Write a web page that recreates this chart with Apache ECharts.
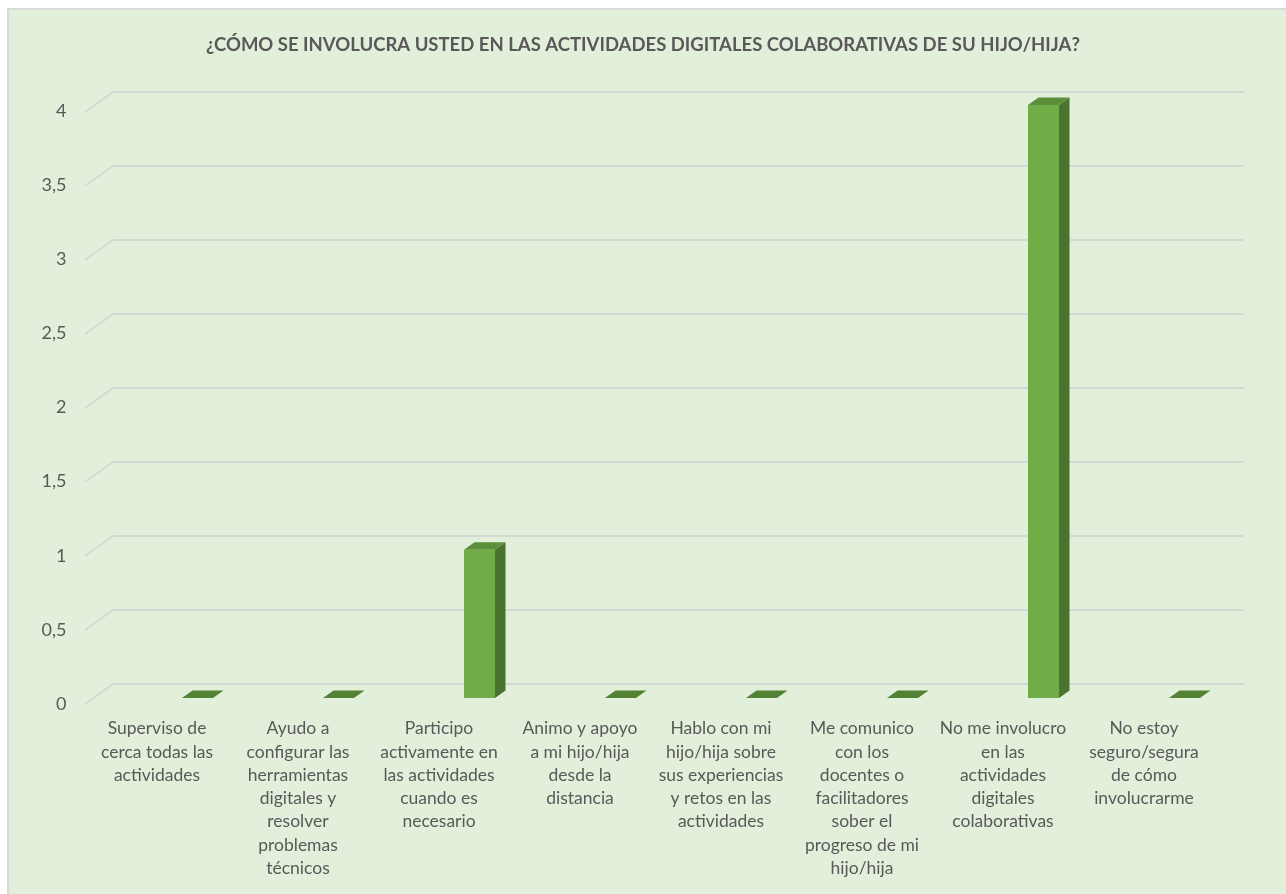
<!DOCTYPE html>
<html><head><meta charset="utf-8">
<script src="https://cdn.jsdelivr.net/npm/echarts@6/dist/echarts.min.js"></script>
<style>
html,body{margin:0;padding:0;background:#fff;}
#frame{position:absolute;left:7px;top:8px;width:1290px;height:900px;background:#E2EFDA;border-left:2px solid #D9D9D9;border-top:2px solid #D9D9D9;}
#chart{position:absolute;left:0;top:0;width:1286px;height:894px;}
</style></head>
<body>
<div id="frame"></div>
<div id="chart"></div>
<script>
const titleText = "¿CÓMO SE INVOLUCRA USTED EN LAS ACTIVIDADES DIGITALES COLABORATIVAS DE SU HIJO/HIJA?";
const categories = [
  "Superviso de\ncerca todas las\nactividades",
  "Ayudo a\nconfigurar las\nherramientas\ndigitales y\nresolver\nproblemas\ntécnicos",
  "Participo\nactivamente en\nlas actividades\ncuando es\nnecesario",
  "Animo y apoyo\na mi hijo/hija\ndesde la\ndistancia",
  "Hablo con mi\nhijo/hija sobre\nsus experiencias\ny retos en las\nactividades",
  "Me comunico\ncon los\ndocentes o\nfacilitadores\nsober el\nprogreso de mi\nhijo/hija",
  "No me involucro\nen las\nactividades\ndigitales\ncolaborativas",
  "No estoy\nseguro/segura\nde cómo\ninvolucrarme"
];
const values = [0, 0, 1, 0, 0, 0, 4, 0];
const yTicks = [0, 0.5, 1, 1.5, 2, 2.5, 3, 3.5, 4];

const TXT = '#595959';
const FONT = 'Lato';

const chart = echarts.init(document.getElementById('chart'), null, {renderer: 'canvas'});
const option = {
  backgroundColor: 'transparent',
  animation: false,
  title: {
    text: titleText, left: 'center', top: 31,
    textStyle: {fontFamily: FONT, fontSize: 18.5, fontWeight: 'bold', color: TXT}
  },
  grid: [
    {left: 113, right: 42, top: 92, bottom: 210},
    {left: 86.5, right: 71.5, top: 111, bottom: 190},
    {left: 127, right: 31, top: 105, bottom: 196}
  ],
  xAxis: [
    {gridIndex: 0, type: 'value', min: 0, max: 1, show: false},
    {gridIndex: 1, type: 'category', data: categories,
     axisLine: {show: false}, axisTick: {show: false}, splitLine: {show: false},
     axisLabel: {interval: 0, margin: 13, color: TXT, fontFamily: FONT, fontSize: 17.5, lineHeight: 23.3, align: 'center', verticalAlign: 'top'}},
    {gridIndex: 2, type: 'category', data: categories, show: false}
  ],
  yAxis: [
    {gridIndex: 0, type: 'value', min: 0, max: 4, interval: 0.5,
     axisLine: {show: false}, axisTick: {show: false}, axisLabel: {show: false},
     splitLine: {show: true, lineStyle: {color: '#D6D9D3', width: 2}}},
    {gridIndex: 1, type: 'value', min: 0, max: 4, interval: 0.5,
     axisLine: {show: false}, axisTick: {show: false}, splitLine: {show: false},
     axisLabel: {margin: 20, color: TXT, fontFamily: FONT, fontSize: 18,
       formatter: v => String(v).replace('.', ',')}},
    {gridIndex: 2, type: 'value', min: 0, max: 4, show: false}
  ],
  series: [
    {
      type: 'custom', xAxisIndex: 0, yAxisIndex: 0, silent: true,
      data: yTicks.map(v => [0, v]),
      renderItem: function (params, api) {
        const p = api.coord([0, api.value(1)]);
        return {type: 'line', shape: {x1: p[0] - 28, y1: p[1] + 20, x2: p[0], y2: p[1]},
          style: {stroke: '#D6D9D3', lineWidth: 2}};
      }
    },
    {
      type: 'custom', xAxisIndex: 2, yAxisIndex: 2, silent: true,
      data: values.map((v, i) => [i, v]),
      renderItem: function (params, api) {
        const i = api.value(0), v = api.value(1);
        const p0 = api.coord([i, 0]);
        const p1 = api.coord([i, v]);
        const band = api.size([1, 0])[0];
        const w = band * 0.22;
        const x0 = p0[0] - w / 2, x1 = p0[0] + w / 2;
        const yb = p0[1], yt = p1[1];
        const dx = 10.5, dy = 7.5;
        const children = [];
        if (yb - yt > 0.5) {
          children.push({type: 'polygon', shape: {points: [[x1, yt], [x1 + dx, yt - dy], [x1 + dx, yb - dy], [x1, yb]]},
            style: {fill: '#4B7330'}});
          children.push({type: 'rect', shape: {x: x0, y: yt, width: w, height: yb - yt},
            style: {fill: '#70AD47'}});
        }
        children.push({type: 'polygon', shape: {points: [[x0, yt], [x0 + dx, yt - dy], [x1 + dx, yt - dy], [x1, yt]]},
          style: {fill: yb - yt > 0.5 ? '#5C8F3A' : '#548235'}});
        return {type: 'group', children: children};
      }
    }
  ]
};
chart.setOption(option);
</script>
</body></html>
